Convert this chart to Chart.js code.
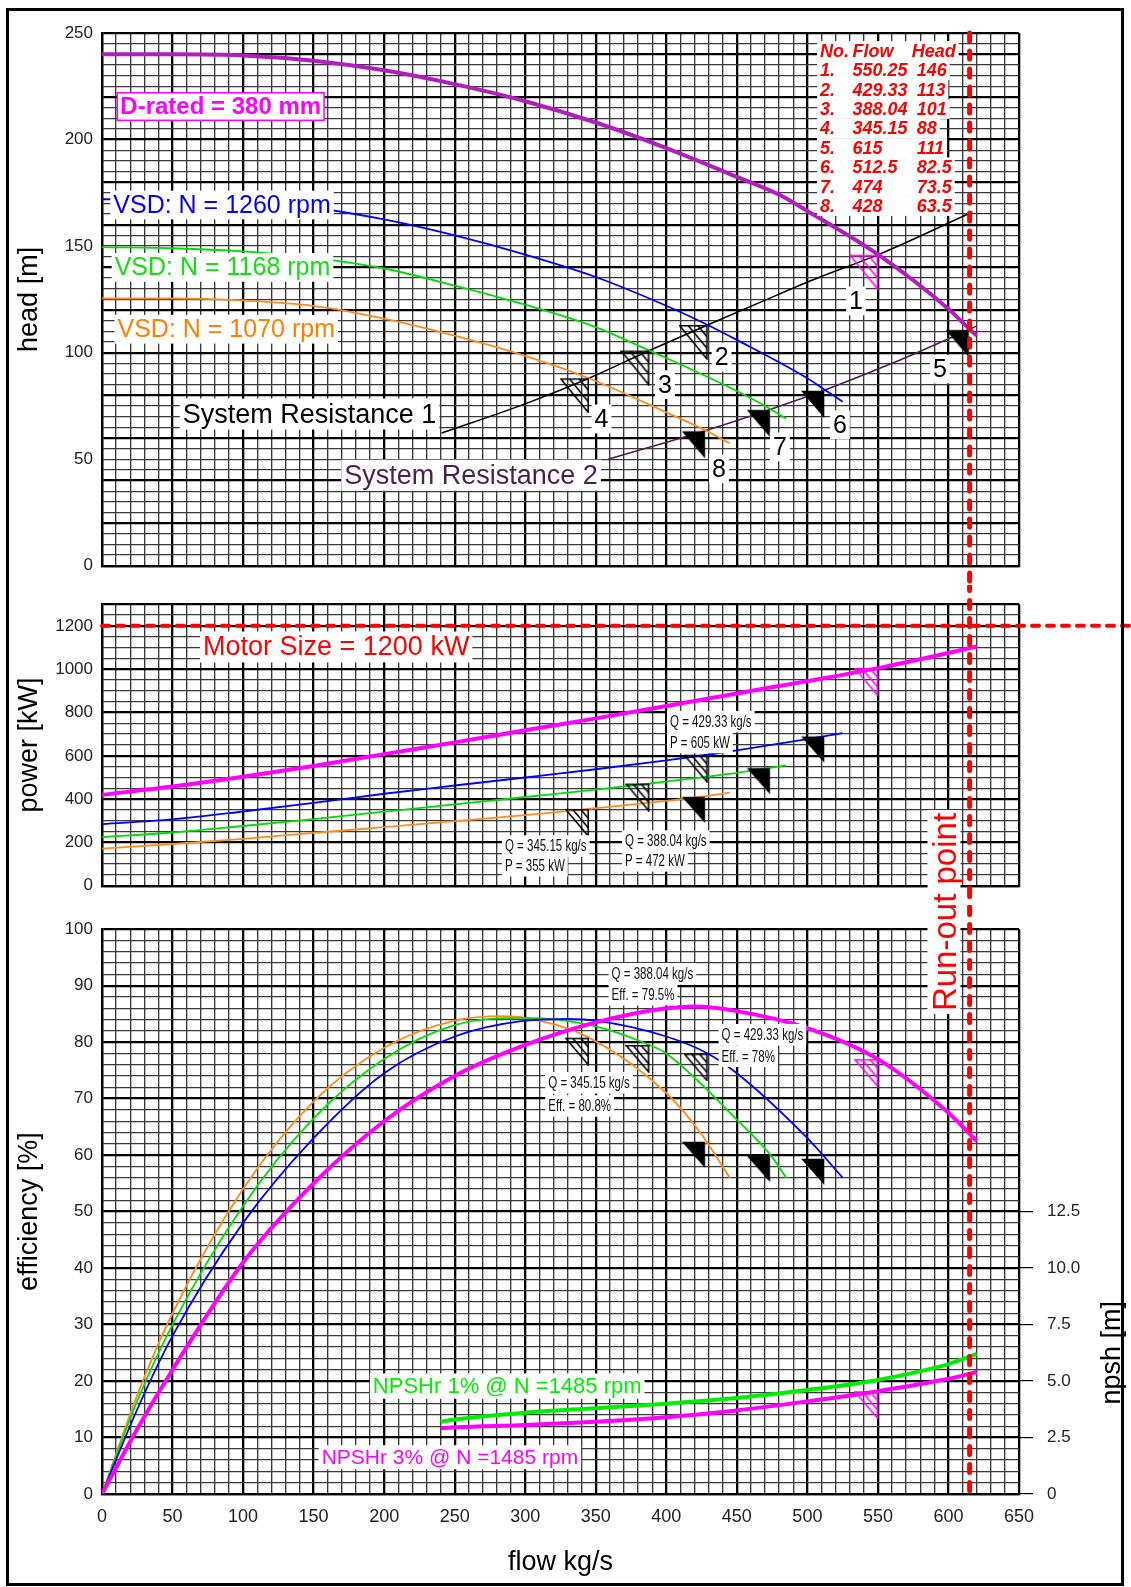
<!DOCTYPE html>
<html>
<head>
<meta charset="utf-8">
<title>Pump performance curves</title>
<script src="https://cdn.jsdelivr.net/npm/chart.js@4.4.1/dist/chart.umd.min.js"></script>
<style>
  body { margin: 0; background: #fff; }
  #page { position: relative; width: 1131px; height: 1587px; overflow: hidden; background: #fff; }
  #page canvas { position: absolute; left: 0; }
  #frame { position: absolute; left: 6px; top: 8px; width: 1118px; height: 1578px; box-sizing: border-box;
           border: 3px solid #000; pointer-events: none; }
  #runout { position: absolute; left: 944px; top: 912px; transform: translate(-50%, -50%) rotate(-90deg);
            font: 33px "Liberation Sans", Arial, sans-serif; color: #ff0000; background: #fff;
            padding: 0 3px; white-space: nowrap; line-height: 1.0; }
</style>
</head>
<body>
<div id="page">
  <canvas id="headChart" width="1131" height="585" style="top:0"></canvas>
  <canvas id="powerChart" width="1131" height="320" style="top:585px"></canvas>
  <canvas id="effChart" width="1131" height="682" style="top:905px"></canvas>
  <div id="runout">Run-out point</div>
  <div id="frame"></div>
</div>
<script>
// ---- data ----
const runOutFlow = 615;
const motorSize = 1200;

// head [m] vs flow [kg/s]
const dRatedFlow = [0, 50, 100, 150, 200, 250, 300, 350, 400, 450, 480.5, 500, 550.25, 600, 615, 620];
const dRatedHead = [240, 240, 239.5, 237, 232.5, 226, 218, 208, 196, 182.5, 174, 166.5, 146, 120.5, 111, 108];
const n1260Flow = [0, 50, 100, 150, 200, 250, 300, 350, 400, 429.33, 450, 500, 512.5, 525];
const n1260Head = [172, 172, 171, 168, 162.5, 155, 146, 135.5, 122, 113, 106, 88, 82.5, 77];
const n1168Flow = [0, 50, 100, 150, 200, 250, 300, 350, 388.04, 400, 450, 474, 485];
const n1168Head = [149.5, 149, 147.5, 144.5, 139.5, 131.5, 122.5, 112, 101, 97.5, 82, 73.5, 69];
const n1070Flow = [0, 50, 100, 150, 200, 250, 300, 345.15, 400, 428, 445];
const n1070Head = [125.5, 125.5, 124.5, 122, 116, 108, 98.5, 88, 72, 63.5, 57.5];
const sys1Flow = [240.7, 300, 345.15, 388.04, 429.33, 480, 509, 550.25, 617];
const sys1Head = [62.3, 76, 88, 101, 113, 127.5, 135.5, 146, 166];
const sys2Flow = [358.8, 428, 474, 512.5, 560, 615, 620];
const sys2Head = [50, 63.5, 73.5, 82.5, 95, 111, 112.5];

// operating points (table)
const pointFlow = [550.25, 429.33, 388.04, 345.15, 615, 512.5, 474, 428];
const pointHead = [146, 113, 101, 88, 111, 82.5, 73.5, 63.5];

// power [kW]
const powDFlow = [0, 50, 100, 150, 200, 250, 300, 350, 400, 450, 500, 550, 600, 620];
const powDVal = [420, 458, 503, 553, 608, 662, 718, 773, 830, 888, 945, 1005, 1075, 1105];
const pow1260Flow = [0, 50, 100, 150, 200, 250, 300, 350, 400, 429.33, 450, 500, 525];
const pow1260Val = [285, 307, 343, 383, 425, 463, 500, 538, 579, 605, 625, 677, 705];
const pow1168Flow = [0, 50, 100, 150, 200, 250, 300, 350, 388.04, 400, 450, 485];
const pow1168Val = [225, 246, 276, 308, 342, 376, 410, 444, 472, 481, 521, 556];
const pow1070Flow = [0, 50, 100, 150, 200, 250, 300, 345.15, 400, 428, 445];
const pow1070Val = [172, 193, 217, 244, 271, 299, 326, 355, 392, 414, 430];
const opPower = [1005, 605, 472, 355];        // points 1-4
const opPowerFilled = [693, 547, 414];        // points 6-8

// efficiency [%]
const effDFlow = [0, 25, 50, 100, 150, 200, 250, 300, 350, 400, 420, 450, 500, 550, 600, 620];
const effDVal = [0, 11.5, 22, 41, 55, 66, 74, 79.5, 83.5, 86, 86.3, 85.5, 82.5, 77, 67.5, 62.5];
const eff1260Flow = [0, 25, 50, 100, 150, 200, 250, 300, 330, 350, 400, 429.33, 450, 500, 525];
const eff1260Val = [0, 15, 28, 48, 63, 74.5, 81, 83.8, 84.1, 83.8, 81, 78, 74.5, 63, 56];
const eff1168Flow = [0, 25, 50, 100, 150, 200, 250, 300, 350, 388.04, 400, 450, 474, 485];
const eff1168Val = [0, 16.5, 30, 51, 66.5, 77, 83, 84.3, 82.8, 79.5, 78, 66.3, 60, 56];
const eff1070Flow = [0, 25, 50, 100, 150, 200, 250, 285, 300, 345.15, 400, 424, 445];
const eff1070Val = [0, 17.5, 32, 54, 69.5, 79, 83.8, 84.6, 84.3, 80.8, 71, 64, 56];
const opEff = [77, 78, 79.5, 80.8];           // points 1-4
const opEffFilled = [59.5, 60, 62.5];         // points 6-8

// NPSHr [m]
const npshFlow = [240, 250, 300, 350, 400, 450, 500, 550, 600, 620];
const npsh1Val = [3.2, 3.3, 3.6, 3.8, 4.0, 4.25, 4.6, 5.05, 5.75, 6.2];
const npsh3Val = [2.9, 2.95, 3.05, 3.2, 3.4, 3.7, 4.1, 4.55, 5.1, 5.4];

// ---- helpers ----
const SANS = '"Liberation Sans", Arial, sans-serif';
const NARROW = '"Liberation Sans Narrow", "Liberation Sans", Arial, sans-serif';
const BLUE = '#0000ff', GREEN = '#00dd00', ORANGE = '#ff8c1a', PINK = '#ff00ff', RED = '#ff0000';

function steps(min, max, step) {
  const out = [];
  for (let v = min; v <= max + 1e-9; v += step) out.push(+v.toFixed(4));
  return out;
}
function isMult(v, m) { return Math.abs(v / m - Math.round(v / m)) < 1e-6; }
function pairs(xs, ys) { return xs.map((x, i) => ({x: x, y: ys[i]})); }

function curve(xs, ys, color, width, axis) {
  return {
    data: pairs(xs, ys), borderColor: color, backgroundColor: color, borderWidth: width,
    pointRadius: 0, cubicInterpolationMode: 'monotone', fill: false, yAxisID: axis || 'y', order: 3
  };
}
function markers(xs, ys, style, axis) {
  return {
    data: pairs(xs, ys), showLine: false, pointStyle: style, pointRadius: 4,
    yAxisID: axis || 'y', order: 2
  };
}
function dashed(points, width, dash, axis) {
  return {
    data: points, borderColor: RED, borderWidth: width, borderDash: dash, borderCapStyle: 'round',
    pointRadius: 0, clip: false, yAxisID: axis || 'y', order: 0
  };
}

// right-angled marker, top-right corner sits on the point
function triangle(w, h, color, filled) {
  const c = document.createElement('canvas');
  c.width = 2 * w; c.height = 2 * h;
  const g = c.getContext('2d');
  g.beginPath();
  g.moveTo(1, h + 0.75); g.lineTo(w - 0.75, h + 0.75); g.lineTo(w - 0.75, 2 * h - 1); g.closePath();
  if (filled) {
    g.fillStyle = color; g.fill();
  } else {
    g.strokeStyle = color; g.lineWidth = 1.6; g.stroke();
    g.beginPath();
    [1 / 3, 2 / 3].forEach(t => {
      g.moveTo(w * t, h + 0.75);
      g.lineTo(w - 0.75, h + (1 - t) * h);
    });
    g.stroke();
  }
  return c;
}
const hatchBig = triangle(29, 35, '#000', false);
const hatchBigPink = triangle(29, 35, PINK, false);
const fillBig = triangle(25, 29, '#000', true);
const hatchSmall = triangle(24, 28, '#000', false);
const hatchSmallPink = triangle(24, 28, PINK, false);
const fillSmall = triangle(25, 28, '#000', true);

function gridOpts(major, extraMajor) {
  const thick = v => isMult(v, major) || v === extraMajor;
  return {
    color: c => (c.tick && thick(c.tick.value)) ? '#000' : '#3a3a3a',
    lineWidth: c => (c.tick && thick(c.tick.value)) ? 2.3 : 1.35,
    drawTicks: false
  };
}

function xAxis(showLabels, height) {
  return {
    type: 'linear', min: 0, max: 650,
    afterBuildTicks: s => { s.ticks = steps(0, 650, 10).map(v => ({value: v})); },
    afterFit: s => { s.height = height; },
    grid: gridOpts(50),
    border: {display: true, color: '#000', width: 2.3},
    ticks: {
      display: showLabels, autoSkip: false, maxRotation: 0, minRotation: 0, padding: 12,
      color: '#222', font: {family: NARROW, size: 18},
      callback: v => isMult(v, 50) ? String(v) : ''
    },
    title: {display: showLabels, text: 'flow kg/s', color: '#000', font: {family: SANS, size: 27},
            padding: {top: 0, bottom: 8}}
  };
}

function yAxis(title, max, step, major, labelStep, labelMax) {
  return {
    type: 'linear', position: 'left', min: 0, max: max,
    afterBuildTicks: s => { s.ticks = steps(0, max, step).map(v => ({value: v})); },
    afterFit: s => { s.width = 102; },
    grid: gridOpts(major, max),
    border: {display: true, color: '#000', width: 2.3},
    ticks: {
      autoSkip: false, padding: 9, color: '#222', font: {family: SANS, size: 17},
      callback: v => (isMult(v, labelStep) && v <= labelMax) ? String(v) : ''
    },
    title: {display: true, text: title, color: '#000', font: {family: SANS, size: 27},
            padding: {top: 13, bottom: 0}}
  };
}

function drawLabel(chart, it) {
  const ctx = chart.ctx;
  const px = chart.scales.x.getPixelForValue(it.x);
  const py = chart.scales[it.axis || 'y'].getPixelForValue(it.y);
  ctx.save();
  ctx.font = it.font;
  const sx = it.sx || 1;
  const w = ctx.measureText(it.text).width * sx;
  const h = it.size * (it.lh || 1.15);
  let left = px;
  if (it.align === 'center') left = px - w / 2;
  else if (it.align === 'right') left = px - w;
  ctx.fillStyle = '#fff';
  ctx.fillRect(left - 3, py - h / 2, w + 6, h);
  if (it.box) {
    ctx.strokeStyle = it.box; ctx.lineWidth = 1.5;
    ctx.strokeRect(left - 3, py - h / 2, w + 6, h);
  }
  ctx.translate(left, py);
  ctx.scale(sx, 1);
  ctx.fillStyle = it.color;
  ctx.textAlign = 'left';
  ctx.textBaseline = 'middle';
  ctx.fillText(it.text, 0, 1);
  ctx.restore();
}

function labelPlugin(items, extra) {
  return {
    id: 'textLabels',
    afterDatasetsDraw(chart) {
      items.forEach(it => drawLabel(chart, it));
      if (extra) extra(chart);
    }
  };
}

function lab(text, x, y, color, size, more) {
  return Object.assign({text: text, x: x, y: y, color: color, size: size,
                        font: size + 'px ' + SANS, align: 'left'}, more || {});
}
function small(text, x, y, axis) {
  return {text: text, x: x, y: y, axis: axis, color: '#111', size: 16, lh: 1.35, sx: 0.72,
          font: '16px ' + NARROW, align: 'left'};
}

function baseOptions(padding) {
  return {
    responsive: false, animation: false, events: [],
    layout: {padding: padding},
    plugins: {legend: {display: false}, tooltip: {enabled: false}}
  };
}

// ---- head chart ----
const headLabels = [
  lab('D-rated = 380 mm', 13, 215.5, PINK, 24, {font: 'bold 24px ' + SANS, box: PINK}),
  lab('VSD: N = 1260 rpm', 8, 169.3, BLUE, 25),
  lab('VSD: N = 1168 rpm', 9, 140, '#11e011', 25),
  lab('VSD: N = 1070 rpm', 11, 111, '#ff7f00', 25),
  lab('System Resistance 1', 237, 71.2, '#000', 27, {align: 'right'}),
  lab('System Resistance 2', 351.5, 42.5, '#4b1f4f', 27, {align: 'right'})
];
const numberPos = [[534.4, 124.3], [439.2, 97.9], [399, 85], [354.1, 68.9],
                   [593.9, 92.3], [523, 66.2], [480.5, 55.8], [437.3, 45.5]];
numberPos.forEach((p, i) => headLabels.push(lab(String(i + 1), p[0], p[1], '#000', 25, {align: 'center'})));

function drawTable(chart) {
  const ctx = chart.ctx;
  const x0 = chart.scales.x.getPixelForValue(509);
  const y0 = chart.scales.y.getPixelForValue(241.6);
  const colFlow = chart.scales.x.getPixelForValue(532) - x0;
  const colHead = chart.scales.x.getPixelForValue(577.5) - x0;
  const rows = [['No.', 'Flow', 'Head']];
  pointFlow.forEach((f, i) => rows.push([(i + 1) + '.', String(f), String(pointHead[i])]));
  ctx.save();
  ctx.font = 'italic bold 18px ' + SANS;
  ctx.textBaseline = 'middle';
  rows.forEach((r, i) => {
    const y = y0 + i * 19.4;
    const hx = i === 0 ? colHead - 5 : colHead;
    const right = hx + ctx.measureText(r[2]).width;
    ctx.fillStyle = '#fff';
    ctx.fillRect(x0 - 3, y - 9.8, right + 6, 19.6);
    ctx.fillStyle = RED;
    ctx.fillText(r[0], x0, y + 1);
    ctx.fillText(r[1], x0 + colFlow, y + 1);
    ctx.fillText(r[2], x0 + hx, y + 1);
  });
  ctx.restore();
}

new Chart(document.getElementById('headChart'), {
  type: 'line',
  data: {datasets: [
    dashed([{x: runOutFlow, y: 250}, {x: runOutFlow, y: -12}], 5, [8, 10]),
    markers(pointFlow.slice(1, 4), pointHead.slice(1, 4), hatchBig),
    markers(pointFlow.slice(0, 1), pointHead.slice(0, 1), hatchBigPink),
    markers(pointFlow.slice(4), pointHead.slice(4), fillBig),
    curve(dRatedFlow, dRatedHead, '#b21ebd', 4),
    curve(n1260Flow, n1260Head, BLUE, 1.8),
    curve(n1168Flow, n1168Head, GREEN, 1.8),
    curve(n1070Flow, n1070Head, ORANGE, 1.8),
    curve(sys1Flow, sys1Head, '#000', 1.5),
    curve(sys2Flow, sys2Head, '#4b1f4f', 1.6)
  ]},
  options: Object.assign(baseOptions({top: 33, bottom: 18, left: 0, right: 112}), {
    scales: {x: xAxis(false, 0), y: yAxis('head [m]', 250, 5, 20, 50, 250)}
  }),
  plugins: [labelPlugin(headLabels, drawTable)]
});

// ---- power chart ----
const powerLabels = [
  lab('Motor Size = 1200 kW', 71.6, 1102.5, RED, 27),
  small('Q = ' + pointFlow[1] + ' kg/s', 402.6, 757.6), small('P = ' + opPower[1] + ' kW', 402.6, 661.9),
  small('Q = ' + pointFlow[3] + ' kg/s', 285.6, 183.6), small('P = ' + opPower[3] + ' kW', 285.6, 92.5),
  small('Q = ' + pointFlow[2] + ' kg/s', 370.7, 206.4), small('P = ' + opPower[2] + ' kW', 370.7, 115.3)
];

new Chart(document.getElementById('powerChart'), {
  type: 'line',
  data: {datasets: [
    dashed([{x: runOutFlow, y: 1400}, {x: runOutFlow, y: -90}], 5, [8, 10]),
    dashed([{x: 0, y: motorSize}, {x: 730, y: motorSize}], 4, [7, 8]),
    markers(pointFlow.slice(1, 4), opPower.slice(1, 4), hatchSmall),
    markers(pointFlow.slice(0, 1), opPower.slice(0, 1), hatchSmallPink),
    markers(pointFlow.slice(5), opPowerFilled, fillSmall),
    curve(powDFlow, powDVal, PINK, 4),
    curve(pow1260Flow, pow1260Val, BLUE, 1.8),
    curve(pow1168Flow, pow1168Val, GREEN, 1.8),
    curve(pow1070Flow, pow1070Val, ORANGE, 1.8)
  ]},
  options: Object.assign(baseOptions({top: 19, bottom: 18, left: 0, right: 112}), {
    scales: {x: xAxis(false, 0), y: yAxis('power [kW]', 1300, 50, 200, 200, 1200)}
  }),
  plugins: [labelPlugin(powerLabels)]
});

// ---- efficiency / npsh chart ----
const effLabels = [
  small('Q = ' + pointFlow[2] + ' kg/s', 361.2, 92.1), small('Eff. = ' + opEff[2] + '%', 361.2, 88.4),
  small('Q = ' + pointFlow[1] + ' kg/s', 439.2, 81.3), small('Eff. = ' + opEff[1] + '%', 439.2, 77.5),
  small('Q = ' + pointFlow[3] + ' kg/s', 316.3, 72.8), small('Eff. = ' + opEff[3] + '%', 316.3, 68.7),
  lab('NPSHr 1% @ N =1485 rpm', 192, 19.1, '#00ee00', 22, {font: '22px ' + NARROW}),
  lab('NPSHr 3% @ N =1485 rpm', 155.7, 6.5, PINK, 21, {font: '21px ' + NARROW})
];

function drawNpshTitle(chart) {
  const ctx = chart.ctx;
  const yc = chart.scales.yN.getPixelForValue(6.25);
  ctx.save();
  ctx.translate(1113, yc);
  ctx.rotate(-Math.PI / 2);
  ctx.font = '27px ' + SANS;
  ctx.fillStyle = '#000';
  ctx.textAlign = 'center';
  ctx.textBaseline = 'middle';
  ctx.fillText('npsh [m]', 0, 0);
  ctx.restore();
}

new Chart(document.getElementById('effChart'), {
  type: 'line',
  data: {datasets: [
    dashed([{x: runOutFlow, y: 104}, {x: runOutFlow, y: 0}], 5, [8, 10]),
    markers(pointFlow.slice(1, 4), opEff.slice(1, 4), hatchSmall),
    markers(pointFlow.slice(0, 1), opEff.slice(0, 1), hatchSmallPink),
    markers(pointFlow.slice(5), opEffFilled, fillSmall),
    markers([pointFlow[0]], [npsh3Val[7]], hatchSmallPink, 'yN'),
    curve(effDFlow, effDVal, PINK, 4),
    curve(eff1260Flow, eff1260Val, BLUE, 1.8),
    curve(eff1168Flow, eff1168Val, GREEN, 1.8),
    curve(eff1070Flow, eff1070Val, ORANGE, 1.8),
    curve(npshFlow, npsh1Val, '#00ee00', 4, 'yN'),
    curve(npshFlow, npsh3Val, PINK, 4, 'yN')
  ]},
  options: Object.assign(baseOptions({top: 18, bottom: 0, left: 0, right: 0}), {
    scales: {
      x: xAxis(true, 93),
      y: yAxis('efficiency [%]', 100, 2, 10, 10, 100),
      yN: {
        type: 'linear', position: 'right', min: 0, max: 25,
        afterBuildTicks: s => { s.ticks = steps(0, 12.5, 2.5).map(v => ({value: v})); },
        afterFit: s => { s.width = 112; },
        grid: {drawOnChartArea: false, drawTicks: true, tickLength: 14, color: '#000', lineWidth: 1.2},
        border: {display: false},
        ticks: {padding: 14, color: '#222', font: {family: SANS, size: 17},
                callback: v => v === 0 ? '0' : v.toFixed(1)}
      }
    }
  }),
  plugins: [labelPlugin(effLabels, drawNpshTitle)]
});
</script>
</body>
</html>
